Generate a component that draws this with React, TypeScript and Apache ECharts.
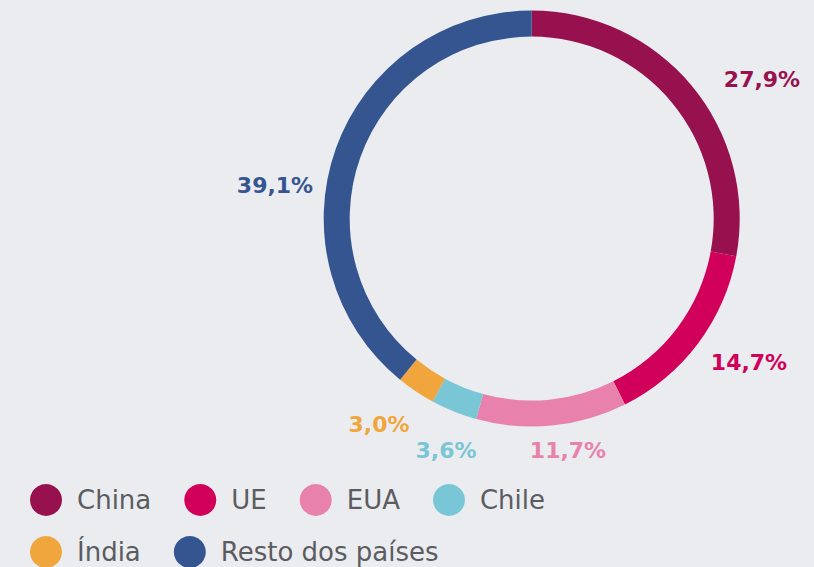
import React, { useEffect, useRef } from "react";
import * as echarts from "echarts";

const categories = ["China", "UE", "EUA", "Chile", "Índia", "Resto dos países"];
const shares = [27.9, 14.7, 11.7, 3.6, 3.0, 39.1];
const colors = ["#97114f", "#d1005b", "#e882ad", "#79c6d6", "#f0a63c", "#355591"];
const legendRow1 = categories.slice(0, 4);
const legendRow2 = categories.slice(4);

export default function App() {
  const ref = useRef<HTMLDivElement>(null);
  useEffect(() => {
    if (!ref.current) return;
    const chart = echarts.init(ref.current, undefined, { renderer: "svg" });
    const labelPos: [number, number][] = [
      [762, 79],
      [749, 362],
      [568, 450],
      [446, 450],
      [379, 424],
      [275, 185],
    ];
    const legendBase = {
      left: 25,
      icon: "circle",
      itemWidth: 32,
      itemHeight: 32,
      itemGap: 33,
      textStyle: {
        fontFamily: "DejaVu Sans",
        fontSize: 26,
        color: "#5b5c60",
        padding: [0, 0, 0, 10],
      },
    };
    chart.setOption({
      animation: false,
      backgroundColor: "#ebecf0",
      color: colors,
      legend: [
        { ...legendBase, top: 479, data: legendRow1 },
        { ...legendBase, top: 531, data: legendRow2 },
      ],
      series: [
        {
          type: "pie",
          center: [531.7, 218.6],
          radius: [182, 208],
          startAngle: 90,
          clockwise: true,
          avoidLabelOverlap: false,
          label: {
            show: true,
            position: "outside",
            fontFamily: "DejaVu Sans",
            fontWeight: "bold",
            fontSize: 22,
            letterSpacing: -0.5,
            formatter: (p: any) => `${Number(p.value).toFixed(1).replace(".", ",")}%`,
          },
          labelLine: { show: false },
          labelLayout: (p: any) => {
            const pos = labelPos[p.dataIndex];
            return { x: pos[0], y: pos[1], align: "center", verticalAlign: "middle" };
          },
          emphasis: { disabled: true },
          data: categories.map((name, i) => ({
            name,
            value: shares[i],
            itemStyle: { color: colors[i] },
            label: { color: colors[i] },
          })),
        },
      ],
    });
    return () => chart.dispose();
  }, []);
  return (
    <div
      ref={ref}
      style={{ position: "fixed", left: 0, top: 0, width: 814, height: 567 }}
    />
  );
}
